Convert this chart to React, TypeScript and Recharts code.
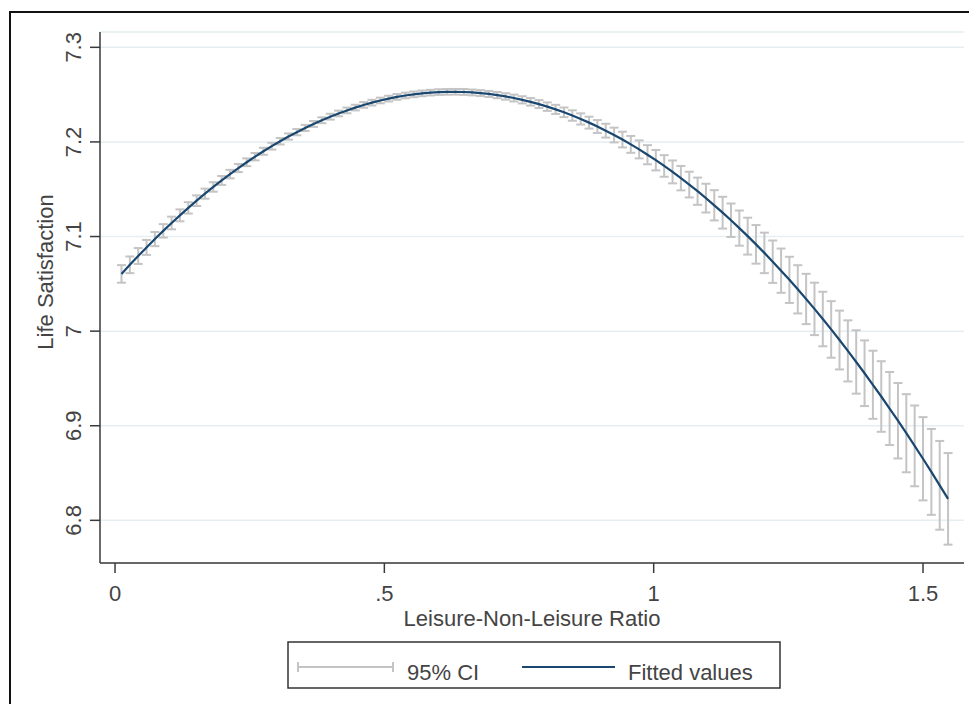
import { ComposedChart, Line, ErrorBar, XAxis, YAxis, CartesianGrid, Label } from "recharts";

// leisure / non-leisure ratio grid (x)
const leisureRatio = [
  0.012, 0.0275, 0.043, 0.0585, 0.074, 0.0895, 0.105, 0.1205, 0.136, 0.1515,
  0.167, 0.1825, 0.198, 0.2135, 0.229, 0.2445, 0.26, 0.2755, 0.291, 0.3065,
  0.322, 0.3375, 0.353, 0.3685, 0.384, 0.3995, 0.415, 0.4305, 0.446, 0.4615,
  0.477, 0.4925, 0.508, 0.5235, 0.539, 0.5545, 0.57, 0.5855, 0.601, 0.6165,
  0.632, 0.6475, 0.663, 0.6785, 0.694, 0.7095, 0.725, 0.7405, 0.756, 0.7715,
  0.787, 0.8025, 0.818, 0.8335, 0.849, 0.8645, 0.88, 0.8955, 0.911, 0.9265,
  0.942, 0.9575, 0.973, 0.9885, 1.004, 1.0195, 1.035, 1.0505, 1.066, 1.0815,
  1.097, 1.1125, 1.128, 1.1435, 1.159, 1.1745, 1.19, 1.2055, 1.221, 1.2365,
  1.252, 1.2675, 1.283, 1.2985, 1.314, 1.3295, 1.345, 1.3605, 1.376, 1.3915,
  1.407, 1.4225, 1.438, 1.4535, 1.469, 1.4845, 1.5, 1.5155, 1.531, 1.5465,
];

const fittedValues = [
  7.0605, 7.0701, 7.0794, 7.0885, 7.0973, 7.106, 7.1143, 7.1224, 7.1303, 7.1379,
  7.1453, 7.1524, 7.1593, 7.166, 7.1724, 7.1785, 7.1844, 7.1901, 7.1955, 7.2007,
  7.2057, 7.2103, 7.2148, 7.219, 7.2229, 7.2267, 7.2301, 7.2333, 7.2363, 7.2391,
  7.2415, 7.2438, 7.2458, 7.2476, 7.2491, 7.2503, 7.2513, 7.2521, 7.2527, 7.2529,
  7.253, 7.2528, 7.2523, 7.2516, 7.2507, 7.2495, 7.2481, 7.2464, 7.2445, 7.2424,
  7.24, 7.2373, 7.2344, 7.2313, 7.2279, 7.2243, 7.2204, 7.2163, 7.2119, 7.2073,
  7.2025, 7.1974, 7.1921, 7.1865, 7.1807, 7.1746, 7.1683, 7.1617, 7.1549, 7.1479,
  7.1406, 7.133, 7.1252, 7.1172, 7.1089, 7.1004, 7.0917, 7.0827, 7.0734, 7.0639,
  7.0542, 7.0442, 7.034, 7.0235, 7.0128, 7.0018, 6.9906, 6.9791, 6.9674, 6.9555,
  6.9433, 6.9309, 6.9182, 6.9053, 6.8921, 6.8787, 6.8651, 6.8512, 6.837, 6.8227,
];

// half width of the 95% CI at each point
const ciHalfWidth = [
  0.0093, 0.0088, 0.0084, 0.0079, 0.0075, 0.0071, 0.0067, 0.0063, 0.006, 0.0056,
  0.0053, 0.005, 0.0047, 0.0045, 0.0043, 0.0041, 0.0039, 0.0037, 0.0036, 0.0034,
  0.0033, 0.0033, 0.0032, 0.0031, 0.0031, 0.0031, 0.003, 0.003, 0.003, 0.003,
  0.003, 0.003, 0.003, 0.003, 0.003, 0.003, 0.003, 0.003, 0.003, 0.003,
  0.003, 0.0031, 0.0031, 0.0031, 0.0032, 0.0033, 0.0034, 0.0036, 0.0038, 0.004,
  0.0042, 0.0045, 0.0048, 0.0051, 0.0055, 0.0059, 0.0063, 0.0068, 0.0073, 0.0078,
  0.0083, 0.0089, 0.0095, 0.0101, 0.0108, 0.0114, 0.0121, 0.0129, 0.0136, 0.0144,
  0.0152, 0.016, 0.0168, 0.0177, 0.0186, 0.0195, 0.0204, 0.0214, 0.0224, 0.0234,
  0.0244, 0.0255, 0.0266, 0.0277, 0.0288, 0.0299, 0.0311, 0.0323, 0.0335, 0.0347,
  0.036, 0.0373, 0.0386, 0.0399, 0.0413, 0.0427, 0.044, 0.0454, 0.0469, 0.0484,
];

const xTicks = [0, 0.5, 1, 1.5];
const xTickLabels = ["0", ".5", "1", "1.5"];
const yTicks = [6.8, 6.9, 7, 7.1, 7.2, 7.3];
const yTickLabels = ["6.8", "6.9", "7", "7.1", "7.2", "7.3"];
const legendLabels = ["95% CI", "Fitted values"];

const FONT = "'Liberation Sans', Arial, Helvetica, sans-serif";
const FS = 22;
const TEXT = "#444";
const AXIS = "#3a3a3a";
const FIT = "#1a476f";
const CI = "#c4c4c4";

const rows = leisureRatio.map((x, i) => ({ x, fit: fittedValues[i], ci: ciHalfWidth[i] }));

const YTick = (props: any) => {
  const { x, y, index } = props;
  return (
    <text
      x={x}
      y={y}
      transform={`rotate(-90, ${x}, ${y})`}
      textAnchor="middle"
      fontSize={FS}
      fontFamily={FONT}
      fill={TEXT}
    >
      {yTickLabels[index]}
    </text>
  );
};

function ChartLegend() {
  return (
    <svg width={494} height={48} style={{ position: "absolute", left: 287, top: 641 }}>
      <rect x={1} y={1} width={492} height={46} fill="#fff" stroke="#333" strokeWidth={1.5} />
      <line x1={11} y1={26} x2={106} y2={26} stroke={CI} strokeWidth={2} />
      <line x1={11} y1={21} x2={11} y2={31} stroke={CI} strokeWidth={2} />
      <line x1={106} y1={21} x2={106} y2={31} stroke={CI} strokeWidth={2} />
      <text x={120} y={39} fontSize={FS} fontFamily={FONT} fill={TEXT}>
        {legendLabels[0]}
      </text>
      <line x1={235} y1={26} x2={328} y2={26} stroke={FIT} strokeWidth={2.2} />
      <text x={341} y={39} fontSize={FS} fontFamily={FONT} fill={TEXT}>
        {legendLabels[1]}
      </text>
    </svg>
  );
}

export default function App() {
  return (
    <div
      style={{
        position: "fixed",
        left: 0,
        top: 0,
        width: 969,
        height: 704,
        background: "#fff",
        overflow: "hidden",
      }}
    >
      <div
        style={{
          position: "absolute",
          left: 9,
          top: 11,
          width: 1000,
          height: 800,
          borderTop: "2px solid #111",
          borderLeft: "2px solid #111",
        }}
      />
      <div style={{ position: "absolute", left: 0, top: 0 }}>
        <ComposedChart
          width={969}
          height={704}
          data={rows}
          margin={{ top: 32, right: 5, bottom: 78, left: 0 }}
        >
          <CartesianGrid vertical={false} stroke="#e5eef1" strokeWidth={1.5} />
          <XAxis
            dataKey="x"
            type="number"
            domain={[-0.0279, 1.5761]}
            allowDataOverflow
            ticks={xTicks}
            tickFormatter={(_v: number, i: number) => xTickLabels[i]}
            height={63}
            tickSize={10}
            tickMargin={12}
            stroke={AXIS}
            strokeWidth={1.5}
            tick={{ fontSize: FS, fontFamily: FONT, fill: TEXT }}
          >
            <Label
              content={(p: any) => (
                <text
                  x={p.viewBox.x + p.viewBox.width / 2}
                  y={626}
                  textAnchor="middle"
                  fontSize={FS}
                  fontFamily={FONT}
                  fill={TEXT}
                >
                  Leisure-Non-Leisure Ratio
                </text>
              )}
            />
          </XAxis>
          <YAxis
            type="number"
            domain={[6.7549, 7.3162]}
            allowDataOverflow
            ticks={yTicks}
            width={100}
            tickSize={10}
            tickMargin={9}
            stroke={AXIS}
            strokeWidth={1.5}
            tick={<YTick />}
          >
            <Label
              content={() => (
                <text
                  x={53}
                  y={272}
                  transform="rotate(-90, 53, 272)"
                  textAnchor="middle"
                  fontSize={FS}
                  fontFamily={FONT}
                  fill={TEXT}
                >
                  Life Satisfaction
                </text>
              )}
            />
          </YAxis>
          <Line
            dataKey="fit"
            stroke="none"
            dot={false}
            activeDot={false}
            legendType="none"
            isAnimationActive={false}
          >
            <ErrorBar dataKey="ci" width={4.5} stroke={CI} strokeWidth={2} />
          </Line>
          <Line
            dataKey="fit"
            type="linear"
            stroke={FIT}
            strokeWidth={2.2}
            dot={false}
            activeDot={false}
            isAnimationActive={false}
          />
        </ComposedChart>
      </div>
      <ChartLegend />
    </div>
  );
}
